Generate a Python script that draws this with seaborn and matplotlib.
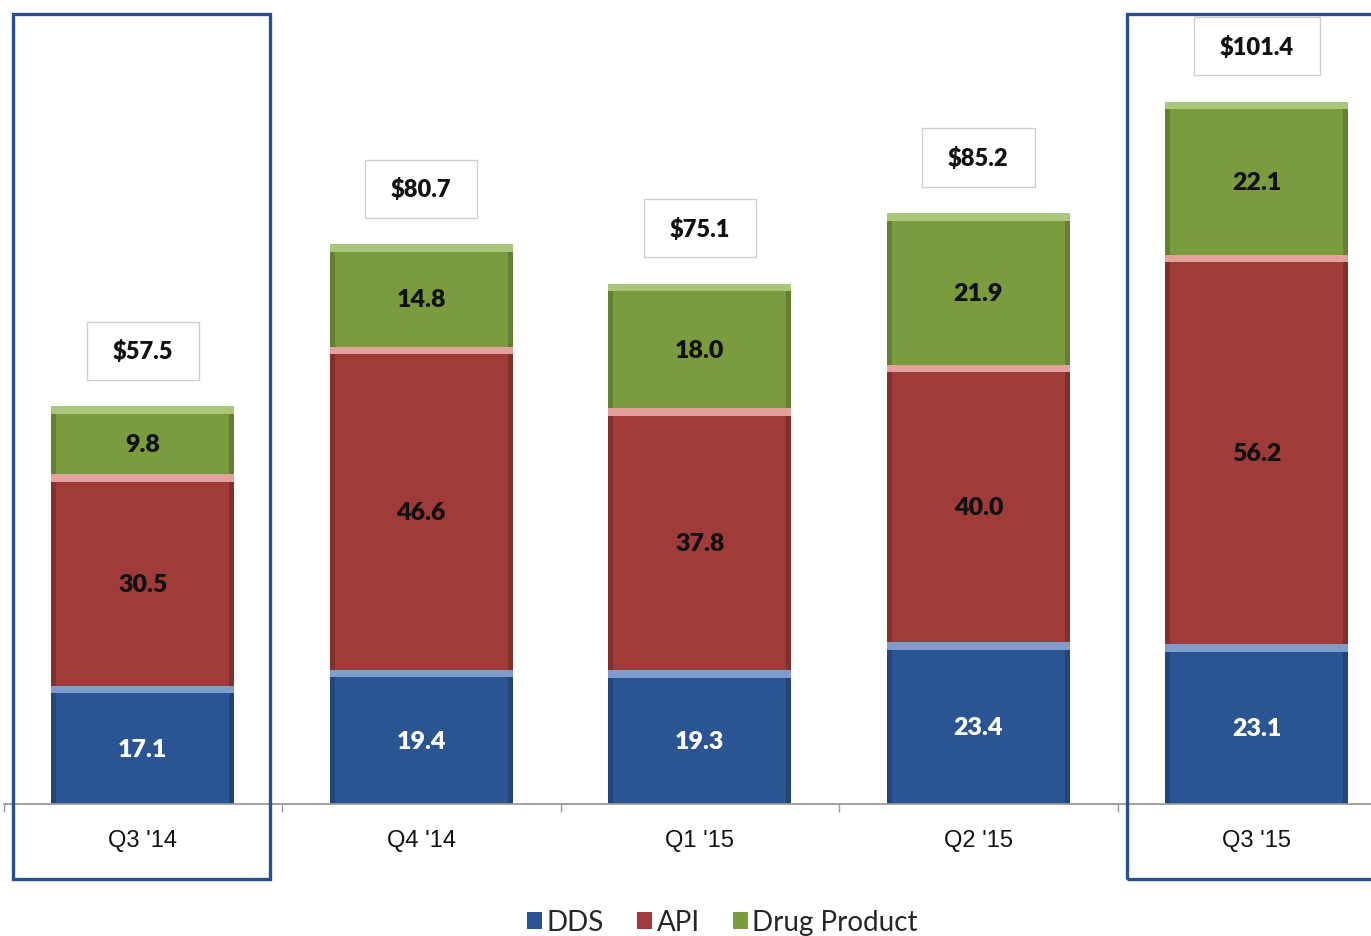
import numpy as np
import pandas as pd
import seaborn as sns
import matplotlib.pyplot as plt
from matplotlib.patches import Rectangle, Patch
from matplotlib.colors import to_rgb

# Quarterly revenue by segment ($ millions)
quarters = ["Q3 '14", "Q4 '14", "Q1 '15", "Q2 '15", "Q3 '15"]
dds = [17.1, 19.4, 19.3, 23.4, 23.1]
api = [30.5, 46.6, 37.8, 40.0, 56.2]
drug_product = [9.8, 14.8, 18.0, 21.9, 22.1]
totals = [57.5, 80.7, 75.1, 85.2, 101.4]
highlighted = ["Q3 '14", "Q3 '15"]

segments = ["DDS", "API", "Drug Product"]
colors = {"DDS": "#2a5592", "API": "#9f3b38", "Drug Product": "#7b9b3f"}
bevel = {"DDS": "#7f9dcc", "API": "#e2a19b", "Drug Product": "#a9c67a"}
text_colors = {"DDS": "white", "API": "#111111", "Drug Product": "#111111"}

sns.set_style("white")
plt.rcParams["font.family"] = ["Lato", "DejaVu Sans"]

df = pd.DataFrame({"quarter": quarters, "DDS": dds, "API": api,
                   "Drug Product": drug_product})
df["base_API"] = df["DDS"]
df["base_Drug Product"] = df["DDS"] + df["API"]
df["base_DDS"] = 0.0
for s in segments:
    df["top_" + s] = df["base_" + s] + df[s]

fig = plt.figure(figsize=(13.71, 9.37), dpi=100)
ax = fig.add_axes([3.5 / 1371, 132 / 937, 1367.5 / 1371, 805 / 937])

width = 0.657
# Stacked bars drawn as overlapping cumulative bars, tallest first
for s in ["Drug Product", "API", "DDS"]:
    sns.barplot(data=df, x="quarter", y="top_" + s, order=quarters,
                color=colors[s], width=width, saturation=1, ax=ax,
                edgecolor="none", linewidth=0, zorder=2)

# Bevelled look: lighter strip on top of each segment, darker sides
bevel_h = 1.1
side_w = 0.018
for i, q in enumerate(quarters):
    for s in segments:
        b = df.loc[i, "base_" + s]
        t = df.loc[i, "top_" + s]
        x0 = i - width / 2
        dark = tuple(c * 0.82 for c in to_rgb(colors[s]))
        ax.add_patch(Rectangle((x0, b), side_w, t - b, color=dark, lw=0, zorder=3))
        ax.add_patch(Rectangle((x0 + width - side_w, b), side_w, t - b,
                               color=dark, lw=0, zorder=3))
        ax.add_patch(Rectangle((x0, t - bevel_h), width, bevel_h,
                               color=bevel[s], lw=0, zorder=4))
        ax.text(i, (b + t - bevel_h) / 2, f"{df.loc[i, s]:.1f}",
                ha="center", va="center", fontsize=18, fontweight="heavy",
                color=text_colors[s], zorder=5)
    # Total label in a box above the stack
    ax.text(i, df.loc[i, "top_Drug Product"] + 8.0, f"${totals[i]:.1f}",
            ha="center", va="center", fontsize=17, fontweight="heavy",
            color="#111111", zorder=5,
            bbox=dict(boxstyle="square,pad=1.1", mutation_aspect=0.68,
                      fc="white", ec="#cfcfcf", lw=1))

# Highlight frames around the first and last quarter
for q in highlighted:
    i = quarters.index(q)
    ax.add_patch(Rectangle((i - 0.467, -10.8), 0.925, 124.9, fill=False,
                           ec="#2a4f8c", lw=2.4, clip_on=False, zorder=6))

ax.set_xlabel("")
ax.set_ylabel("")
ax.set_yticks([])
ax.set_xticks(range(len(quarters)))
ax.set_xticklabels(quarters, fontsize=17, family=["Liberation Sans", "DejaVu Sans"],
                   color="#111111")
ax.set_xticks(np.arange(-0.5, len(quarters), 1.0), minor=True)
ax.tick_params(axis="x", which="major", length=0, pad=18)
ax.tick_params(axis="x", which="minor", length=6, color="#9a9a9a", width=1,
               direction="out", bottom=True)
ax.set_xlim(-0.5, 4.41)
ax.set_ylim(0, 116.2)
for side in ["top", "left", "right"]:
    ax.spines[side].set_visible(False)
ax.spines["bottom"].set_color("#9a9a9a")
ax.spines["bottom"].set_linewidth(1.3)
ax.spines["bottom"].set_zorder(5)

handles = [Patch(facecolor=colors[s], edgecolor="none", label=s) for s in segments]
fig.legend(handles=handles, loc="lower center", bbox_to_anchor=(0.527, -0.026),
           ncol=3, frameon=False, fontsize=20, handlelength=0.55, handleheight=0.55,
           handletextpad=0.15, columnspacing=1.2)

fig.savefig("out.png", dpi=100, facecolor="white")
